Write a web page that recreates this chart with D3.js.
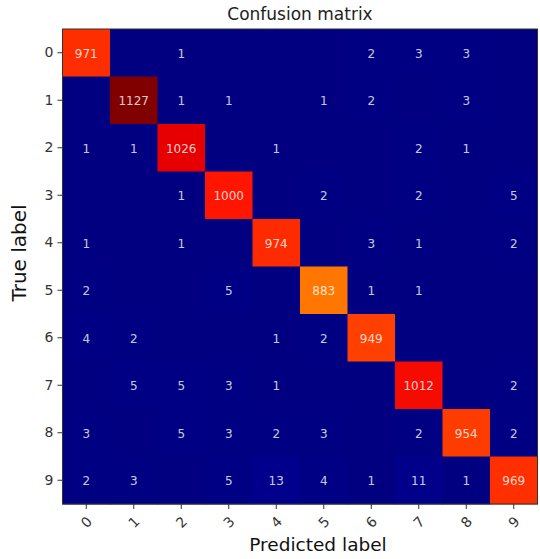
<!DOCTYPE html>
<html>
<head>
<meta charset="utf-8">
<script src="https://cdn.jsdelivr.net/npm/d3@7"></script>
<style>
body { margin: 0; background: #fff; }
text { font-family: "DejaVu Sans", sans-serif; }
</style>
</head>
<body>
<div id="chart"></div>
<script>
// class labels (same for rows and columns)
var labels = ["0","1","2","3","4","5","6","7","8","9"];

// rows = true label, columns = predicted label
var counts = [
    [971, 0, 1, 0, 0, 0, 2, 3, 3, 0],
    [0, 1127, 1, 1, 0, 1, 2, 0, 3, 0],
    [1, 1, 1026, 0, 1, 0, 0, 2, 1, 0],
    [0, 0, 1, 1000, 0, 2, 0, 2, 0, 5],
    [1, 0, 1, 0, 974, 0, 3, 1, 0, 2],
    [2, 0, 0, 5, 0, 883, 1, 1, 0, 0],
    [4, 2, 0, 0, 1, 2, 949, 0, 0, 0],
    [0, 5, 5, 3, 1, 0, 0, 1012, 0, 2],
    [3, 0, 5, 3, 2, 3, 0, 2, 954, 2],
    [2, 3, 0, 5, 13, 4, 1, 11, 1, 969]
];

var w = 540;
var h = 559;
var plotLeft = 62.5, plotTop = 29, size = 475; // "top" is taken by window.top

var svg = d3.select("div#chart")
.append("svg")
.attr("width", w)
.attr("height", h);

// jet colormap, piecewise like matplotlib's
var red = d3.scaleLinear().domain([0, 0.35, 0.66, 0.89, 1]).range([0, 0, 1, 1, 0.5]).clamp(true);
var green = d3.scaleLinear().domain([0, 0.125, 0.375, 0.64, 0.91, 1]).range([0, 0, 1, 1, 0, 0]).clamp(true);
var blue = d3.scaleLinear().domain([0, 0.11, 0.34, 0.65, 1]).range([0.5, 1, 1, 0, 0]).clamp(true);

var maxVal = d3.max(counts, function(r){ return d3.max(r); });
var norm = d3.scaleLinear().domain([0, maxVal]).range([0, 1]);

function jet(v){
    var t = norm(v);
    return d3.rgb(red(t)*255, green(t)*255, blue(t)*255).formatHex();
}

var x = d3.scaleBand().domain(labels).range([plotLeft, plotLeft + size]);
var y = d3.scaleBand().domain(labels).range([plotTop, plotTop + size]);

var cells = [];
for(var i=0; i < counts.length; i++){
    for(var j=0; j < counts[i].length; j++){
        cells.push({row: labels[i], col: labels[j], value: counts[i][j]});
    }
}

svg.selectAll("rect.cell")
    .data(cells)
    .enter()
    .append("rect")
    .attr("class", "cell")
    .attr("x", function(d){ return x(d.col); })
    .attr("y", function(d){ return y(d.row); })
    .attr("width", x.bandwidth() + 0.5)
    .attr("height", y.bandwidth() + 0.5)
    .attr("fill", function(d){ return jet(d.value); });

// numbers, zeros are left blank
svg.selectAll("text.val")
    .data(cells.filter(function(d){ return d.value > 0; }))
    .enter()
    .append("text")
    .attr("class", "val")
    .attr("x", function(d){ return x(d.col) + x.bandwidth()/2; })
    .attr("y", function(d){ return y(d.row) + y.bandwidth()/2 + 1; })
    .attr("text-anchor", "middle")
    .attr("dominant-baseline", "central")
    .style("font-size", "12px")
    .attr("fill", "#fff")
    .attr("fill-opacity", 0.8)
    .text(function(d){ return d.value; });

// frame
svg.append("rect")
    .attr("x", plotLeft)
    .attr("y", plotTop)
    .attr("width", size)
    .attr("height", size)
    .attr("fill", "none")
    .attr("stroke", "#333")
    .attr("stroke-width", 1);

// y axis
var yAxis = svg.append("g")
    .attr("transform", "translate(" + plotLeft + ",0)")
    .call(d3.axisLeft(y).tickSize(5).tickPadding(4));
yAxis.select(".domain").remove();
yAxis.selectAll("line").attr("stroke", "#333");
yAxis.selectAll("text")
    .style("font-size", "14px")
    .style("font-family", "DejaVu Sans")
    .attr("fill", "#333");

// x axis, labels turned 45 degrees
var xAxis = svg.append("g")
    .attr("transform", "translate(0," + (plotTop + size) + ")")
    .call(d3.axisBottom(x).tickSize(5));
xAxis.select(".domain").remove();
xAxis.selectAll("line").attr("stroke", "#333");
xAxis.selectAll("text")
    .attr("y", 0)
    .attr("dy", null)
    .attr("transform", "translate(0,18) rotate(-45)")
    .attr("text-anchor", "middle")
    .attr("dominant-baseline", "central")
    .style("font-size", "14px")
    .style("font-family", "DejaVu Sans")
    .attr("fill", "#333");

// title and axis labels
svg.append("text")
    .attr("x", plotLeft + size/2)
    .attr("y", 20)
    .attr("text-anchor", "middle")
    .style("font-size", "17px")
    .attr("fill", "#222")
    .text("Confusion matrix");

svg.append("text")
    .attr("x", 318)
    .attr("y", 551)
    .attr("text-anchor", "middle")
    .style("font-size", "18.5px")
    .attr("fill", "#111")
    .text("Predicted label");

svg.append("text")
    .attr("transform", "translate(26,253) rotate(-90)")
    .attr("text-anchor", "middle")
    .style("font-size", "20px")
    .attr("fill", "#111")
    .text("True label");
</script>
</body>
</html>
